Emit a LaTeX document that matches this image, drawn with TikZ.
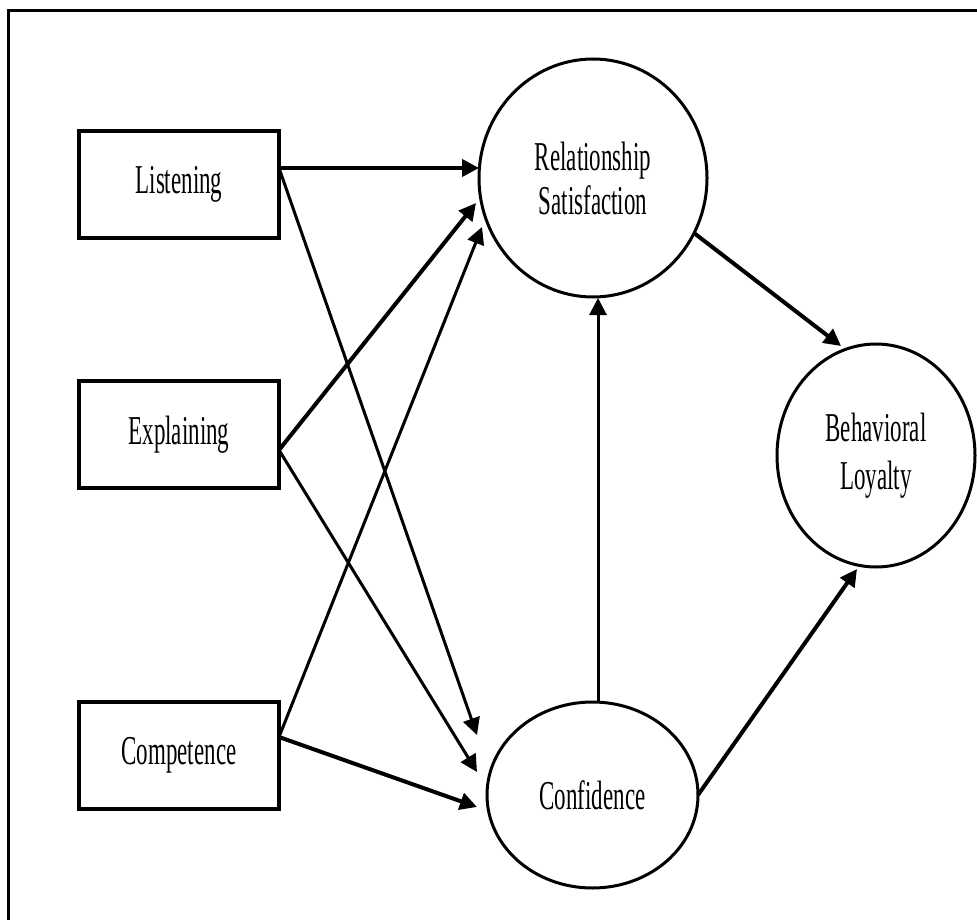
\documentclass[tikz,border=0pt]{standalone}
\usepackage{fontspec}
\setmainfont{Liberation Serif}[FakeStretch=0.56]
\usetikzlibrary{shapes.geometric,arrows.meta}

\begin{document}
\begin{tikzpicture}[x=1pt,y=-1pt,
  every node/.style={font=\fontsize{41}{44}\selectfont},
  frameline/.style={line width=3pt},
  factor/.style={draw,line width=3.4pt,rectangle,inner sep=0pt,
    minimum width=200pt,minimum height=107pt},
  construct/.style={draw,line width=3pt,ellipse,inner sep=0pt,align=center},
  path/.style={line width=3pt,-{Triangle[length=17pt,width=17pt]}},
  strong/.style={path,line width=4pt}]

\useasboundingbox (0,0) rectangle (977,920);

% outer frame (runs off the right and bottom edges)
\draw[frameline] (995,10.5) -- (8,10.5) -- (8,935);

% service behaviour factors
\node[factor] (lis)  at (179,184.5) {Listening};
\node[factor] (expl) at (179,434.5) {Explaining};
\node[factor] (comp) at (179,755.5) {Competence};

% outcome constructs
\node[construct,minimum width=228pt,minimum height=238pt] (rs) at (593,178)
  {Relationship\\Satisfaction};
\node[construct,minimum width=211pt,minimum height=186pt] (conf) at (592.5,795)
  {Confidence};
\node[construct,minimum width=198pt,minimum height=223pt,
  font=\fontsize{41}{48}\selectfont] (bl) at (876,455.5)
  {Behavioral\\Loyalty};

% ports on the factor boxes
\coordinate (lis-out)  at (279,168);
\coordinate (expl-out) at (279,450);
\coordinate (comp-out) at (279,737);

% arrow tips in front of the constructs
\coordinate (rs-in1)   at (479,168);
\coordinate (rs-in2)   at (476,203);
\coordinate (rs-in3)   at (482,227);
\coordinate (conf-in1) at (477,735);
\coordinate (conf-in2) at (477,772);
\coordinate (conf-in3) at (477,807);
\coordinate (conf-up)  at (598,702);
\coordinate (rs-down)  at (598,298);
\coordinate (rs-out)   at (694,233);
\coordinate (bl-in1)   at (841,346);
\coordinate (conf-out) at (698,795);
\coordinate (bl-in2)   at (857,569);

% paths
\draw[strong] (lis-out)  -- (rs-in1);
\draw[path]   (lis-out)  -- (conf-in1);
\draw[strong] (expl-out) -- (rs-in2);
\draw[path]   (expl-out) -- (conf-in2);
\draw[path]   (comp-out) -- (rs-in3);
\draw[strong] (comp-out) -- (conf-in3);
\draw[path]   (conf-up)  -- (rs-down);
\draw[strong] (rs-out)   -- (bl-in1);
\draw[strong] (conf-out) -- (bl-in2);
\end{tikzpicture}
\end{document}
